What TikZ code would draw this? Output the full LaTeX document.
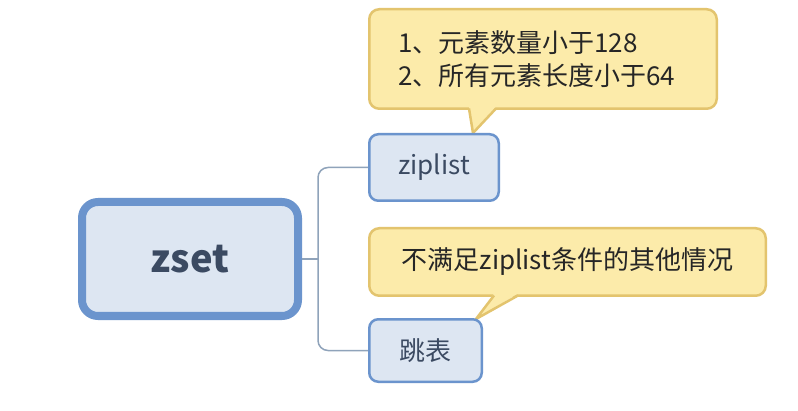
\documentclass[tikz,border=0pt]{standalone}
\usepackage{fontspec}
\setmainfont{Noto Sans CJK SC}
\definecolor{boxfill}{HTML}{DDE6F2}
\definecolor{boxline}{HTML}{6B94CD}
\definecolor{boxtext}{HTML}{3B4A62}
\definecolor{callfill}{HTML}{FCEBAA}
\definecolor{callline}{HTML}{E3C46E}
\definecolor{connc}{HTML}{8FA3BA}
\begin{document}
\begin{tikzpicture}[x=1pt,y=1pt,
  rootbox/.style={draw=boxline, fill=boxfill, line width=8pt, rounded corners=16pt,
    minimum width=216pt, minimum height=114pt, inner sep=0pt, text=boxtext,
    font=\fontsize{38}{44}\selectfont\bfseries},
  leafbox/.style={draw=boxline, fill=boxfill, line width=2.5pt, rounded corners=9pt,
    inner sep=0pt, text=boxtext, font=\fontsize{26}{30}\selectfont},
  callbox/.style={draw=callline, fill=callfill, line width=2.5pt, rounded corners=10pt,
    inner sep=0pt, text=black!85, font=\fontsize{26}{33}\selectfont},
  conn/.style={draw=connc, line width=1.5pt, rounded corners=10pt}
]
\useasboundingbox (0,0) rectangle (798,410);
\fill[white] (0,0) rectangle (798,410);

% callouts (drawn first, pointers on top of boxes' edges)
\node[callbox, minimum width=347.5pt, minimum height=99.5pt, align=left, text width=290pt]
  (c1) at (543,351) {1、元素数量小于128\\2、所有元素长度小于64};
\node[callbox, minimum width=396.5pt, minimum height=67.5pt, align=center]
  (c2) at (567.5,148) {不满足ziplist条件的其他情况};

% pointers
\coordinate (p1a) at (469,301.5);
\coordinate (p1b) at (496,301.5);
\coordinate (p1t) at (473,277);
\fill[callfill] ([yshift=2pt]p1a) -- (p1t) -- ([yshift=2pt]p1b) -- cycle;
\draw[callline, line width=2.5pt, line join=round] (p1a) -- (p1t) -- (p1b);

\coordinate (p2a) at (494,114.5);
\coordinate (p2b) at (518,114.5);
\coordinate (p2t) at (476,91);
\fill[callfill] ([yshift=2pt]p2a) -- (p2t) -- ([yshift=2pt]p2b) -- cycle;
\draw[callline, line width=2.5pt, line join=round] (p2a) -- (p2t) -- (p2b);

% nodes
\node[rootbox] (zset) at (190,151) {zset};
\node[leafbox, minimum width=129.5pt, minimum height=66.5pt] (zl) at (434,242.5) {ziplist};
\node[leafbox, minimum width=112.5pt, minimum height=62.5pt] (tb) at (425.5,59.5) {跳表};

% connectors
\coordinate (trunk) at (318,151);
\draw[conn] (zset.east) -- (trunk);
\draw[conn] (zl.west) -| (trunk) |- (tb.west);
\end{tikzpicture}
\end{document}
